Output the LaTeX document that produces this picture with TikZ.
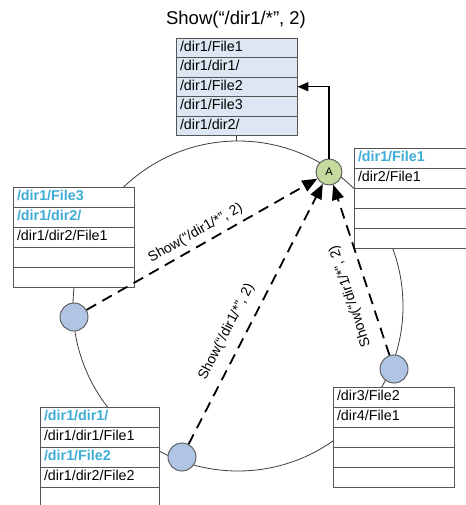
\documentclass[tikz,border=0pt]{standalone}
\usepackage{fontspec}
\setmainfont{Liberation Sans}
\usetikzlibrary{arrows.meta}

\definecolor{edgegray}{RGB}{85,85,85}
\definecolor{ringgray}{RGB}{60,60,60}
\definecolor{listfill}{RGB}{221,231,243}
\definecolor{hitblue}{RGB}{62,172,214}
\definecolor{peerfill}{RGB}{176,196,228}
\definecolor{hubfill}{RGB}{198,217,158}

\newcommand{\hit}[1]{\textcolor{hitblue}{\bfseries #1}}

\tikzset{
  row/.style={rectangle, draw=edgegray, line width=0.9pt, fill=white,
    minimum width=121pt, minimum height=20pt, text width=113pt,
    inner xsep=4pt, inner ysep=0pt, align=left,
    text height=10.5pt, text depth=3pt,
    font=\fontsize{14.3}{16}\selectfont},
  resultrow/.style={row, fill=listfill, minimum height=19.5pt},
  ringline/.style={draw=ringgray, line width=0.8pt},
  peer/.style={circle, draw=edgegray, line width=0.9pt, fill=peerfill,
    minimum size=28pt, inner sep=0pt},
  hub/.style={circle, draw=edgegray, line width=0.9pt, fill=hubfill,
    minimum size=26pt, inner sep=0pt, font=\fontsize{11}{12}\selectfont},
  query/.style={line width=1.8pt, dash pattern=on 11pt off 7pt,
    -{Triangle[length=15pt,width=12pt]}},
  reply/.style={line width=1.4pt, -{Triangle[length=11pt,width=9pt]}},
  querylabel/.style={sloped, above=2pt, font=\fontsize{14}{16}\selectfont},
}

\begin{document}
\begin{tikzpicture}[x=1pt,y=-1pt]
\useasboundingbox (0,0) rectangle (465,505);

% the ring joining the peers
\coordinate (ctr) at (238,306);
\coordinate (ringtop) at (238,141);
\draw[ringline] (ctr) circle (165pt);

% title
\node[font=\fontsize{18.5}{21}\selectfont] (title) at (236,20) {Show(“/dir1/*”, 2)};

% result list
\foreach \t [count=\i] in {/dir1/File1,/dir1/dir1/,/dir1/File2,/dir1/File3,/dir1/dir2/}
  \node[resultrow] (top\i) at (236.5,{38+(\i-0.5)*19.5}) {\t};
\draw[ringline] (top5.south) -- (top5.south |- ringtop);

% per-peer entry lists
\foreach \t [count=\i] in {\hit{/dir1/File3},\hit{/dir1/dir2/},/dir1/dir2/File1,{},{}}
  \node[row] (lft\i) at (73.5,{187+(\i-0.5)*20}) {\t};
\foreach \t [count=\i] in {\hit{/dir1/File1},/dir2/File1,{},{},{}}
  \node[row] (rgt\i) at (414.5,{148+(\i-0.5)*20}) {\t};
\foreach \t [count=\i] in {\hit{/dir1/dir1/},/dir1/dir1/File1,\hit{/dir1/File2},/dir1/dir2/File2,{}}
  \node[row, minimum width=119pt, text width=111pt] (bl\i) at (99.5,{407+(\i-0.5)*20}) {\t};
\foreach \t [count=\i] in {/dir3/File2,/dir4/File1,{},{},{}}
  \node[row] (br\i) at (393.5,{387+(\i-0.5)*20}) {\t};

% peers on the ring
\node[hub] (A) at (329,172) {A};
\node[peer] (pl) at (74,317) {};
\node[peer] (pb) at (182,457) {};
\node[peer] (pr) at (394,369) {};

% answer returned to the caller
\draw[reply] (A.north) |- (top3.east);

% forwarded queries
\draw[query] (pl) -- (A) node[querylabel, pos=0.5] {Show(“/dir1/*”, 2)};
\draw[query] (pb) -- (A) node[querylabel, pos=0.40, above=5pt] {Show(“/dir1/*”, 2)};
\draw[query] (pr) -- (A) node[querylabel, allow upside down, pos=0.38, above=6pt] {Show(“/dir1/*”, 2)};
\end{tikzpicture}
\end{document}
